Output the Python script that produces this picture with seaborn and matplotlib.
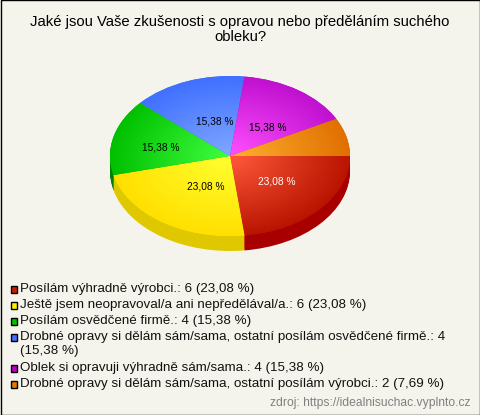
import numpy as np
import matplotlib
matplotlib.use('Agg')
import matplotlib.pyplot as plt
from matplotlib.patches import Rectangle
from matplotlib.colors import to_rgb
import seaborn as sns

title = "Jaké jsou Vaše zkušenosti s opravou nebo předěláním suchého\nobleku?"
counts = [6, 6, 4, 4, 4, 2]
percents = [23.08, 23.08, 15.38, 15.38, 15.38, 7.69]
legend_labels = [
    "Posílám výhradně výrobci.: 6 (23,08 %)",
    "Ještě jsem neopravoval/a ani nepředělával/a.: 6 (23,08 %)",
    "Posílám osvědčené firmě.: 4 (15,38 %)",
    "Drobné opravy si dělám sám/sama, ostatní posílám osvědčené firmě.: 4\n(15,38 %)",
    "Oblek si opravuji výhradně sám/sama.: 4 (15,38 %)",
    "Drobné opravy si dělám sám/sama, ostatní posílám výrobci.: 2 (7,69 %)",
]
source = "zdroj: https://idealnisuchac.vyplnto.cz"

base_colors = ['#c81e00', '#ffee00', '#00c000', '#4070ff', '#c000c8', '#e07c00']
center_colors = ['#ff5a3a', '#ffff30', '#40ff40', '#80a8ff', '#ff50ff', '#ffb030']
edge_colors = ['#b81400', '#ffe000', '#00c000', '#4070ff', '#c010d0', '#e07000']
side_colors = ['#a80000', '#e0c800', '#008000', '#2040c0', '#800080', '#b05000']
bg = '#f5f4ec'

W, H = 480, 415
CX, CY = 230, 156
RX, RY = 120, 80
DEPTH = 15

sns.set_theme(style='white')
plt.rcParams['font.family'] = ['Liberation Sans', 'DejaVu Sans']

fig = plt.figure(figsize=(W / 100, H / 100), dpi=100, facecolor=bg)
ax = fig.add_axes([0, 0, 1, 1])


# label only the bigger slices, decimal comma like the original
def pct_label(p):
    return f'{p:.2f} %'.replace('.', ',') if p > 10 else ''


# side of the pie: same pie stacked downwards
for d in range(DEPTH, 0, -1):
    ax.pie(counts, colors=side_colors, startangle=0, counterclock=False,
           center=(0, -d / RY), radius=1, frame=True,
           wedgeprops={'linewidth': 0})

wedges, texts, autotexts = ax.pie(
    counts, colors=base_colors, startangle=0, counterclock=False,
    center=(0, 0), radius=1, frame=True, autopct=pct_label, pctdistance=0.5,
    textprops={'fontsize': 7.3, 'color': 'black'},
    wedgeprops={'linewidth': 0})

# radial shading clipped to each slice
gx, gy = np.meshgrid(np.linspace(-1, 1, 400), np.linspace(-1, 1, 400))
r = np.clip(np.hypot(gx, gy), 0, 1)[..., None]
for wedge, c0, c1 in zip(wedges, center_colors, edge_colors):
    img = np.array(to_rgb(c0)) * (1 - r) + np.array(to_rgb(c1)) * r
    im = ax.imshow(img, extent=(-1, 1, -1, 1), origin='lower', aspect='auto',
                   zorder=wedge.get_zorder() + 0.1, interpolation='bilinear')
    im.set_clip_path(wedge)

# nudge the labels onto the original spots (px, y down)
label_shift = [(2, -1), (10, -2), (-11, 1), (6, 3), (4, 4), (0, 0)]
for txt, (dx, dy) in zip(autotexts, label_shift):
    x, y = txt.get_position()
    txt.set_position((x + dx / RX, y - dy / RY))
    txt.set_zorder(10)
autotexts[0].set_color('white')

ax.set_aspect('auto')
ax.set_xlim(-CX / RX, (W - CX) / RX)
ax.set_ylim((CY - H) / RY, CY / RY)
ax.axis('off')

# everything else in pixel coords from the top left
overlay = fig.add_axes([0, 0, 1, 1], facecolor='none')
overlay.set_xlim(0, W)
overlay.set_ylim(H, 0)
overlay.axis('off')

overlay.text(240, 29.5, title, ha='center', va='center', fontsize=10.7,
             color='black', linespacing=1.1)

y = 289
for label, color in zip(legend_labels, base_colors):
    overlay.add_patch(Rectangle((10.5, y - 3.5), 6, 7, facecolor=color,
                                edgecolor='black', linewidth=1))
    overlay.text(20.5, y - 6, label, ha='left', va='top', fontsize=9.6,
                 color='#111111', linespacing=1.17)
    y += 16 + 15 * label.count('\n')

overlay.text(470, 402.5, source, ha='right', va='center', fontsize=8.7, color='#808080')

overlay.add_patch(Rectangle((0.5, 0.5), W - 1, H - 1, fill=False,
                            edgecolor='black', linewidth=1))

plt.savefig('out.png', dpi=100, facecolor=bg)
plt.close()
